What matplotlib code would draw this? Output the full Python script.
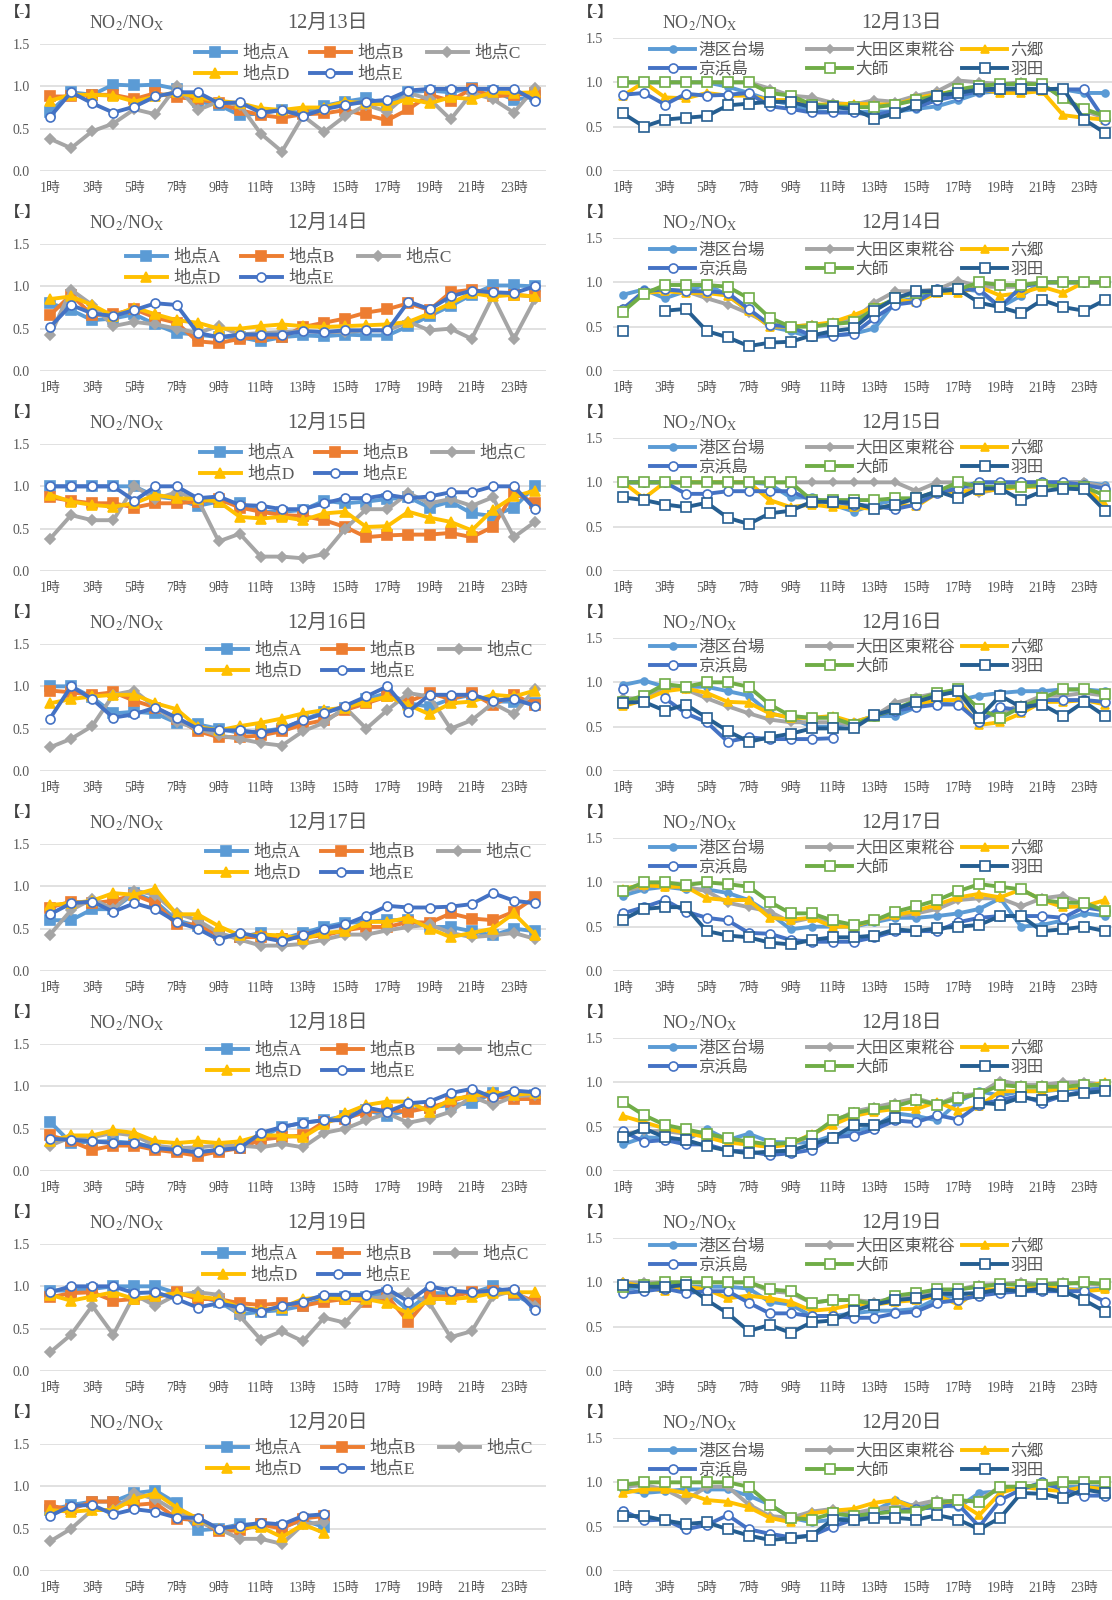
import numpy as np
import matplotlib
matplotlib.use("Agg")
import matplotlib.pyplot as plt

plt.rcParams["font.family"] = ["Liberation Serif", "Noto Sans CJK JP"]
plt.rcParams["mathtext.fontset"] = "stix"

W, H = 1112, 1600
GRAY_TXT = "#595959"

hours = [f"{h}時" for h in range(1, 25)]
dates = ["12月13日", "12月14日", "12月15日", "12月16日",
         "12月17日", "12月18日", "12月19日", "12月20日"]
pt_names = ["地点A", "地点B", "地点C", "地点D", "地点E"]
st_names = ["港区台場", "大田区東糀谷", "六郷", "京浜島", "大師", "羽田"]

# 地点A..E, one row per series, hourly 1時..24時
pt_13 = [
    [0.70, 0.93, 0.90, 1.02, 1.01, 1.02, 0.97, 0.82, 0.78, 0.66, 0.68, 0.72, 0.68, 0.77, 0.82, 0.86, 0.78, 0.93, 0.95, 0.93, 0.98, 0.95, 0.84, 0.88],
    [0.88, 0.88, 0.90, 0.90, 0.85, 0.92, 0.87, 0.85, 0.80, 0.72, 0.66, 0.63, 0.67, 0.68, 0.72, 0.66, 0.60, 0.73, 0.90, 0.83, 0.97, 0.88, 0.90, 0.92],
    [0.38, 0.27, 0.47, 0.56, 0.73, 0.67, 1.00, 0.72, 0.82, 0.78, 0.44, 0.23, 0.65, 0.46, 0.65, 0.78, 0.70, 0.92, 0.85, 0.61, 0.92, 0.85, 0.69, 0.98],
    [0.83, 0.90, 0.90, 0.89, 0.82, 0.88, 0.93, 0.87, 0.83, 0.80, 0.74, 0.72, 0.75, 0.75, 0.82, 0.80, 0.78, 0.85, 0.80, 0.87, 0.85, 0.93, 0.92, 0.93],
    [0.64, 0.93, 0.80, 0.69, 0.76, 0.88, 0.93, 0.93, 0.80, 0.81, 0.69, 0.72, 0.65, 0.73, 0.78, 0.82, 0.84, 0.95, 0.97, 0.97, 0.97, 0.97, 0.97, 0.83],
]
pt_14 = [
    [0.80, 0.72, 0.60, 0.62, 0.67, 0.55, 0.45, 0.43, 0.40, 0.40, 0.35, 0.40, 0.42, 0.41, 0.43, 0.42, 0.42, 0.53, 0.65, 0.77, 0.90, 1.01, 1.01, 1.00],
    [0.66, 0.90, 0.66, 0.67, 0.73, 0.63, 0.57, 0.35, 0.33, 0.38, 0.40, 0.40, 0.52, 0.57, 0.62, 0.69, 0.73, 0.80, 0.72, 0.93, 0.96, 0.92, 0.90, 0.88],
    [0.42, 0.96, 0.78, 0.53, 0.58, 0.55, 0.50, 0.45, 0.53, 0.43, 0.45, 0.46, 0.47, 0.46, 0.46, 0.48, 0.48, 0.58, 0.48, 0.50, 0.38, 0.88, 0.38, 0.85],
    [0.85, 0.88, 0.78, 0.65, 0.75, 0.67, 0.60, 0.57, 0.50, 0.50, 0.53, 0.55, 0.53, 0.52, 0.53, 0.54, 0.55, 0.58, 0.68, 0.80, 0.92, 0.88, 0.90, 0.88],
    [0.52, 0.78, 0.68, 0.65, 0.72, 0.80, 0.78, 0.45, 0.40, 0.43, 0.43, 0.43, 0.47, 0.46, 0.48, 0.48, 0.48, 0.82, 0.73, 0.88, 0.95, 0.93, 0.92, 1.00],
]
pt_15 = [
    [1.00, 1.00, 1.00, 1.00, 1.00, 0.88, 0.85, 0.77, 0.82, 0.80, 0.70, 0.70, 0.72, 0.83, 0.80, 0.82, 0.85, 0.87, 0.75, 0.82, 0.68, 0.65, 0.75, 1.00],
    [0.87, 0.83, 0.80, 0.80, 0.75, 0.80, 0.80, 0.82, 0.85, 0.75, 0.70, 0.66, 0.65, 0.60, 0.52, 0.40, 0.42, 0.43, 0.43, 0.45, 0.40, 0.52, 0.93, 0.80],
    [0.38, 0.66, 0.60, 0.60, 1.00, 0.85, 0.93, 0.85, 0.35, 0.44, 0.17, 0.17, 0.15, 0.20, 0.50, 0.73, 0.73, 0.92, 0.80, 0.85, 0.77, 0.87, 0.40, 0.58],
    [0.90, 0.82, 0.78, 0.76, 0.80, 0.90, 0.86, 0.85, 0.82, 0.64, 0.62, 0.64, 0.60, 0.68, 0.70, 0.52, 0.53, 0.70, 0.63, 0.58, 0.48, 0.72, 0.88, 0.95],
    [1.00, 1.00, 1.00, 1.00, 0.83, 1.00, 1.00, 0.86, 0.88, 0.78, 0.77, 0.73, 0.73, 0.80, 0.86, 0.86, 0.90, 0.86, 0.88, 0.93, 0.93, 1.00, 1.00, 0.73],
]
pt_16 = [
    [1.00, 1.00, 0.87, 0.68, 0.70, 0.68, 0.57, 0.55, 0.50, 0.45, 0.47, 0.50, 0.60, 0.70, 0.75, 0.85, 0.92, 0.80, 0.76, 0.85, 0.90, 0.82, 0.82, 0.80],
    [0.95, 0.93, 0.90, 0.93, 0.83, 0.75, 0.62, 0.47, 0.40, 0.40, 0.42, 0.47, 0.55, 0.60, 0.72, 0.80, 0.88, 0.82, 0.92, 0.85, 0.92, 0.78, 0.90, 0.78],
    [0.28, 0.38, 0.53, 0.90, 0.95, 0.75, 0.58, 0.50, 0.42, 0.38, 0.33, 0.30, 0.47, 0.57, 0.75, 0.50, 0.72, 0.92, 0.88, 0.50, 0.60, 0.80, 0.67, 0.97],
    [0.80, 0.85, 0.88, 0.90, 0.90, 0.80, 0.73, 0.52, 0.48, 0.53, 0.57, 0.62, 0.68, 0.72, 0.75, 0.82, 0.88, 0.78, 0.67, 0.80, 0.82, 0.90, 0.88, 0.95],
    [0.62, 1.00, 0.85, 0.63, 0.67, 0.75, 0.63, 0.50, 0.48, 0.48, 0.45, 0.50, 0.60, 0.68, 0.77, 0.88, 1.00, 0.70, 0.90, 0.90, 0.90, 0.83, 0.85, 0.77],
]
pt_17 = [
    [0.60, 0.60, 0.73, 0.73, 0.92, 0.82, 0.60, 0.53, 0.43, 0.40, 0.45, 0.38, 0.45, 0.52, 0.57, 0.58, 0.60, 0.60, 0.52, 0.52, 0.47, 0.42, 0.50, 0.47],
    [0.75, 0.82, 0.80, 0.83, 0.90, 0.80, 0.55, 0.55, 0.42, 0.40, 0.40, 0.38, 0.40, 0.42, 0.48, 0.52, 0.52, 0.58, 0.57, 0.68, 0.62, 0.60, 0.70, 0.87],
    [0.43, 0.72, 0.85, 0.73, 0.95, 0.90, 0.68, 0.60, 0.45, 0.37, 0.30, 0.30, 0.32, 0.37, 0.43, 0.43, 0.48, 0.52, 0.55, 0.45, 0.40, 0.42, 0.45, 0.38],
    [0.78, 0.80, 0.83, 0.92, 0.90, 0.97, 0.67, 0.67, 0.53, 0.42, 0.43, 0.42, 0.38, 0.45, 0.47, 0.58, 0.58, 0.63, 0.50, 0.40, 0.45, 0.50, 0.68, 0.43],
    [0.67, 0.80, 0.82, 0.70, 0.80, 0.73, 0.58, 0.50, 0.37, 0.45, 0.40, 0.35, 0.42, 0.50, 0.55, 0.65, 0.77, 0.75, 0.75, 0.76, 0.79, 0.92, 0.83, 0.80],
]
pt_18 = [
    [0.58, 0.33, 0.35, 0.35, 0.33, 0.28, 0.25, 0.22, 0.25, 0.27, 0.40, 0.52, 0.57, 0.60, 0.65, 0.72, 0.65, 0.72, 0.75, 0.78, 0.80, 0.92, 0.88, 0.90],
    [0.42, 0.35, 0.25, 0.30, 0.30, 0.25, 0.22, 0.18, 0.23, 0.27, 0.37, 0.40, 0.42, 0.58, 0.62, 0.70, 0.72, 0.70, 0.75, 0.82, 0.90, 0.88, 0.85, 0.85],
    [0.30, 0.40, 0.40, 0.45, 0.42, 0.30, 0.27, 0.28, 0.30, 0.30, 0.28, 0.32, 0.28, 0.45, 0.50, 0.60, 0.68, 0.57, 0.62, 0.70, 0.88, 0.78, 0.88, 0.90],
    [0.35, 0.42, 0.42, 0.48, 0.45, 0.35, 0.33, 0.35, 0.33, 0.35, 0.42, 0.42, 0.40, 0.55, 0.68, 0.78, 0.82, 0.82, 0.70, 0.85, 0.88, 0.93, 0.90, 0.92],
    [0.38, 0.37, 0.35, 0.33, 0.33, 0.27, 0.25, 0.22, 0.25, 0.27, 0.45, 0.52, 0.57, 0.60, 0.60, 0.75, 0.70, 0.80, 0.82, 0.92, 0.97, 0.87, 0.95, 0.93],
]
pt_19 = [
    [0.95, 0.95, 0.97, 1.00, 1.00, 1.00, 0.92, 0.88, 0.82, 0.67, 0.70, 0.72, 0.77, 0.85, 0.87, 0.87, 0.92, 0.72, 0.92, 0.92, 0.92, 1.00, 0.90, 0.78],
    [0.87, 0.92, 0.93, 0.83, 0.85, 0.87, 0.93, 0.85, 0.85, 0.80, 0.78, 0.80, 0.77, 0.82, 0.85, 0.82, 0.88, 0.58, 0.88, 0.88, 0.93, 0.95, 0.92, 0.82],
    [0.22, 0.43, 0.77, 0.43, 0.90, 0.77, 0.90, 0.93, 0.90, 0.65, 0.37, 0.47, 0.35, 0.63, 0.57, 0.85, 0.88, 0.92, 0.80, 0.40, 0.47, 0.88, 0.95, 0.77],
    [0.90, 0.83, 0.88, 0.93, 0.85, 0.88, 0.92, 0.88, 0.85, 0.75, 0.72, 0.75, 0.85, 0.87, 0.85, 0.85, 0.80, 0.68, 0.85, 0.85, 0.87, 0.92, 0.93, 0.93],
    [0.93, 1.00, 1.00, 1.00, 0.92, 0.93, 0.85, 0.75, 0.80, 0.75, 0.70, 0.77, 0.82, 0.90, 0.90, 0.90, 0.97, 0.82, 1.00, 0.95, 0.93, 0.95, 0.97, 0.72],
]
pt_20 = [
    [0.72, 0.78, 0.82, 0.82, 0.92, 0.95, 0.80, 0.48, 0.50, 0.55, 0.55, 0.52, 0.60, 0.52],
    [0.77, 0.73, 0.82, 0.82, 0.78, 0.80, 0.62, 0.60, 0.47, 0.48, 0.55, 0.50, 0.62, 0.65],
    [0.35, 0.50, 0.72, 0.72, 0.92, 0.85, 0.70, 0.58, 0.50, 0.38, 0.38, 0.32, 0.55, 0.58],
    [0.72, 0.70, 0.72, 0.72, 0.85, 0.92, 0.75, 0.62, 0.50, 0.52, 0.52, 0.40, 0.55, 0.45],
    [0.65, 0.77, 0.78, 0.67, 0.73, 0.70, 0.63, 0.63, 0.50, 0.53, 0.57, 0.55, 0.65, 0.67],
]

# 港区台場, 大田区東糀谷, 六郷, 京浜島, 大師, 羽田
st_13 = [
    [1.00, 1.00, 1.00, 1.00, 1.00, 0.95, 0.88, 0.80, 0.75, 0.68, 0.66, 0.66, 0.67, 0.67, 0.70, 0.73, 0.80, 0.88, 0.90, 0.92, 0.92, 0.92, 0.88, 0.88],
    [1.00, 1.00, 1.00, 1.00, 1.00, 1.00, 1.00, 0.93, 0.85, 0.83, 0.77, 0.75, 0.80, 0.78, 0.85, 0.90, 1.02, 1.00, 0.98, 1.00, 0.98, 0.82, 0.68, 0.60],
    [0.85, 1.00, 0.83, 0.82, 0.88, 0.85, 0.85, 0.80, 0.80, 0.75, 0.75, 0.76, 0.75, 0.75, 0.82, 0.87, 0.90, 0.92, 0.88, 0.88, 0.90, 0.63, 0.60, 0.58],
    [0.86, 0.88, 0.75, 0.87, 0.85, 0.86, 0.88, 0.73, 0.70, 0.66, 0.66, 0.66, 0.63, 0.68, 0.72, 0.80, 0.85, 0.90, 0.92, 0.92, 0.92, 0.92, 0.92, 0.57],
    [1.00, 1.00, 1.00, 1.00, 1.00, 1.00, 1.00, 0.88, 0.85, 0.75, 0.73, 0.72, 0.72, 0.75, 0.80, 0.85, 0.92, 0.96, 0.98, 0.98, 0.98, 0.82, 0.70, 0.62],
    [0.65, 0.50, 0.58, 0.60, 0.62, 0.74, 0.76, 0.78, 0.78, 0.72, 0.72, 0.70, 0.59, 0.65, 0.75, 0.85, 0.88, 0.92, 0.93, 0.93, 0.92, 0.93, 0.58, 0.43],
]
st_14 = [
    [0.86, 0.92, 0.82, 0.90, 0.98, 0.85, 0.68, 0.50, 0.45, 0.38, 0.40, 0.42, 0.48, 0.78, 0.82, 0.90, 0.93, 0.90, 0.72, 0.85, 1.00, 1.00, 1.00, 1.00],
    [0.70, 0.88, 0.92, 0.90, 0.82, 0.75, 0.65, 0.53, 0.50, 0.52, 0.53, 0.58, 0.77, 0.90, 0.90, 0.92, 1.02, 0.95, 0.95, 0.95, 1.00, 1.00, 1.00, 1.00],
    [0.70, 0.88, 0.90, 0.88, 0.88, 0.85, 0.68, 0.50, 0.50, 0.52, 0.55, 0.63, 0.72, 0.80, 0.78, 0.88, 0.88, 0.95, 0.85, 0.88, 0.95, 0.88, 1.00, 1.00],
    [0.70, 0.90, 0.92, 0.90, 0.90, 0.88, 0.70, 0.52, 0.50, 0.40, 0.40, 0.42, 0.60, 0.75, 0.78, 0.92, 0.92, 0.92, 0.72, 0.95, 1.00, 1.00, 1.00, 1.00],
    [0.67, 0.87, 0.97, 0.97, 0.97, 0.95, 0.82, 0.60, 0.50, 0.50, 0.53, 0.55, 0.70, 0.82, 0.88, 0.90, 0.92, 1.00, 0.97, 0.97, 1.00, 1.00, 1.00, 1.00],
    [0.45, None, 0.68, 0.70, 0.45, 0.38, 0.28, 0.32, 0.33, 0.40, 0.45, 0.48, 0.68, 0.82, 0.90, 0.90, 0.92, 0.77, 0.72, 0.65, 0.80, 0.72, 0.68, 0.80],
]
st_15 = [
    [1.00, 1.00, 1.00, 1.00, 1.00, 1.00, 1.00, 0.98, 0.83, 0.83, 0.75, 0.67, 0.75, 0.80, 0.80, 0.88, 0.95, 1.00, 1.00, 1.00, 1.00, 1.00, 1.00, 0.97],
    [1.00, 1.00, 1.00, 1.00, 1.00, 1.00, 1.00, 1.00, 1.00, 1.00, 1.00, 1.00, 1.00, 1.00, 0.90, 1.00, 1.00, 0.88, 0.93, 1.00, 1.00, 1.00, 1.00, 0.95],
    [1.00, 0.82, 1.00, 1.00, 1.00, 1.00, 1.00, 0.80, 0.72, 0.75, 0.72, 0.72, 0.70, 0.75, 0.73, 0.88, 0.90, 0.90, 0.92, 0.95, 0.95, 1.00, 0.95, 0.75],
    [1.00, 1.00, 1.00, 0.87, 0.87, 0.90, 0.90, 0.90, 0.90, 0.80, 0.78, 0.75, 0.73, 0.70, 0.75, 0.88, 0.93, 1.00, 1.00, 1.00, 1.00, 1.00, 0.97, 0.93],
    [1.00, 1.00, 1.00, 1.00, 1.00, 1.00, 1.00, 1.00, 1.00, 0.80, 0.80, 0.80, 0.80, 0.82, 0.82, 0.90, 1.00, 0.95, 0.95, 0.95, 0.97, 0.95, 0.95, 0.85],
    [0.83, 0.80, 0.75, 0.72, 0.77, 0.60, 0.53, 0.65, 0.68, 0.78, 0.78, 0.77, 0.70, 0.75, 0.82, 0.90, 0.82, 0.93, 0.93, 0.80, 0.90, 0.93, 0.92, 0.68],
]
st_16 = [
    [0.97, 1.02, 0.95, 0.95, 0.95, 0.90, 0.85, 0.65, 0.60, 0.50, 0.50, 0.55, 0.62, 0.62, 0.72, 0.78, 0.80, 0.85, 0.88, 0.90, 0.90, 0.92, 0.92, 0.90],
    [0.82, 0.82, 0.95, 0.92, 0.82, 0.73, 0.65, 0.58, 0.55, 0.55, 0.55, 0.52, 0.62, 0.77, 0.83, 0.88, 0.88, 0.60, 0.65, 0.75, 0.85, 0.85, 0.88, 0.85],
    [0.73, 0.80, 0.90, 0.93, 0.88, 0.78, 0.77, 0.65, 0.60, 0.60, 0.62, 0.55, 0.62, 0.70, 0.75, 0.80, 0.80, 0.52, 0.55, 0.65, 0.78, 0.78, 0.80, 0.75],
    [0.92, None, 0.82, 0.65, 0.55, 0.33, 0.38, 0.36, 0.36, 0.36, 0.37, None, 0.62, 0.68, 0.72, 0.75, 0.75, 0.55, 0.72, 0.68, 0.80, 0.80, 0.80, 0.78],
    [0.78, 0.85, 0.98, 0.95, 1.00, 1.00, 0.95, 0.75, 0.62, 0.60, 0.60, 0.52, 0.62, 0.70, 0.80, 0.88, 0.92, 0.70, 0.60, 0.72, 0.82, 0.92, 0.92, 0.87],
    [0.77, 0.78, 0.68, 0.75, 0.60, 0.45, 0.33, 0.38, 0.42, 0.48, 0.48, 0.48, 0.63, 0.70, 0.78, 0.85, 0.90, 0.60, 0.85, 0.72, 0.75, 0.62, 0.78, 0.62],
]
st_17 = [
    [0.85, 0.92, 0.95, 0.92, 0.92, 0.88, 0.80, 0.65, 0.47, 0.50, 0.50, 0.50, 0.55, 0.60, 0.60, 0.62, 0.65, 0.70, 0.82, 0.50, 0.52, 0.57, 0.65, 0.62],
    [0.90, 0.95, 0.97, 0.95, 0.90, 0.77, 0.72, 0.67, 0.55, 0.60, 0.55, 0.52, 0.57, 0.62, 0.65, 0.70, 0.80, 0.82, 0.82, 0.73, 0.82, 0.85, 0.75, 0.68],
    [0.93, 0.97, 0.95, 0.95, 0.82, 0.80, 0.80, 0.60, 0.58, 0.60, 0.50, 0.50, 0.58, 0.63, 0.68, 0.75, 0.83, 0.87, 0.83, 0.92, 0.80, 0.72, 0.73, 0.80],
    [0.65, 0.72, 0.80, 0.67, 0.60, 0.57, 0.43, 0.42, 0.35, 0.33, 0.33, 0.33, 0.38, 0.45, 0.45, 0.45, 0.55, 0.60, 0.62, 0.62, 0.62, 0.60, 0.72, 0.68],
    [0.90, 1.00, 1.00, 0.97, 1.00, 0.98, 0.95, 0.78, 0.65, 0.65, 0.57, 0.52, 0.57, 0.67, 0.73, 0.80, 0.90, 0.98, 0.95, 0.92, 0.80, 0.77, 0.77, 0.68],
    [0.58, 0.70, 0.72, 0.72, 0.45, 0.40, 0.38, 0.32, 0.30, 0.35, 0.38, 0.38, 0.40, 0.47, 0.45, 0.48, 0.50, 0.52, 0.62, 0.62, 0.45, 0.47, 0.50, 0.45],
]
st_18 = [
    [0.30, 0.38, 0.37, 0.35, 0.47, 0.35, 0.42, 0.33, 0.32, 0.32, 0.40, 0.45, 0.50, 0.65, 0.62, 0.57, 0.78, 0.90, 0.85, 0.90, 0.90, 0.92, 0.93, 0.95],
    [0.42, 0.45, 0.45, 0.42, 0.40, 0.33, 0.30, 0.28, 0.30, 0.40, 0.55, 0.67, 0.72, 0.77, 0.82, 0.75, 0.85, 0.87, 1.02, 0.97, 0.97, 1.00, 1.00, 0.97],
    [0.62, 0.55, 0.48, 0.43, 0.38, 0.32, 0.30, 0.27, 0.30, 0.42, 0.52, 0.62, 0.67, 0.70, 0.70, 0.78, 0.68, 0.73, 0.90, 0.90, 0.90, 0.93, 0.95, 1.00],
    [0.45, 0.33, 0.35, 0.30, 0.30, 0.23, 0.22, 0.18, 0.20, 0.24, 0.38, 0.40, 0.47, 0.57, 0.55, 0.63, 0.58, 0.75, 0.80, 0.85, 0.77, 0.85, 0.90, 0.93],
    [0.78, 0.63, 0.52, 0.47, 0.42, 0.37, 0.33, 0.30, 0.32, 0.40, 0.57, 0.65, 0.70, 0.73, 0.80, 0.75, 0.82, 0.87, 0.97, 0.95, 0.95, 0.95, 0.97, 0.97],
    [0.38, 0.48, 0.38, 0.35, 0.28, 0.23, 0.20, 0.22, 0.23, 0.30, 0.37, 0.52, 0.52, 0.60, None, None, None, 0.77, 0.75, 0.83, 0.80, 0.85, 0.88, 0.90],
]
st_19 = [
    [0.92, 0.95, 0.95, 0.95, 0.95, 0.95, 0.93, 0.78, 0.75, 0.62, 0.62, 0.65, 0.68, 0.68, 0.70, 0.82, 0.85, 0.88, 0.92, 0.92, 0.93, 0.92, 0.92, 0.93],
    [1.00, 1.00, 1.00, 1.00, 1.00, 1.00, 1.00, 0.90, 0.88, 0.77, 0.80, 0.80, 0.78, 0.82, 0.85, 0.90, 0.92, 0.97, 0.98, 1.00, 0.98, 1.00, 0.98, 0.97],
    [1.00, 0.95, 0.90, 0.95, 0.92, 0.82, 0.85, 0.82, 0.78, 0.68, 0.70, 0.75, 0.75, 0.78, 0.80, 0.85, 0.75, 0.92, 0.92, 0.93, 0.95, 0.93, 0.90, 0.92],
    [0.88, 0.90, 0.93, 0.88, 0.90, 0.90, 0.77, 0.65, 0.65, 0.62, 0.62, 0.60, 0.60, 0.65, 0.67, 0.77, 0.80, 0.85, 0.88, 0.90, 0.90, 0.90, 0.90, 0.78],
    [0.95, 0.97, 1.00, 1.00, 1.00, 1.00, 1.00, 0.92, 0.90, 0.77, 0.80, 0.80, 0.75, 0.85, 0.88, 0.92, 0.92, 0.95, 0.98, 0.97, 0.98, 0.98, 1.00, 0.98],
    [0.97, 0.95, 0.95, 0.97, 0.80, 0.65, 0.45, 0.52, 0.43, 0.55, 0.57, 0.68, 0.75, 0.80, 0.82, 0.87, 0.87, 0.88, 0.92, 0.90, 0.93, 0.90, 0.80, 0.67],
]
st_20 = [
    [0.92, 0.88, 0.90, 0.92, 0.92, 0.92, 0.85, 0.75, 0.60, 0.55, 0.58, 0.60, 0.68, 0.80, 0.72, 0.75, 0.72, 0.88, 0.90, 0.95, 0.97, 0.95, 0.95, 0.95],
    [0.95, 0.97, 0.92, 0.80, 0.95, 0.95, 0.75, 0.62, 0.60, 0.67, 0.70, 0.65, 0.70, 0.72, 0.75, 0.80, 0.78, 0.80, 0.95, 0.95, 0.97, 1.00, 1.00, 1.00],
    [0.88, 0.92, 0.92, 0.88, 0.80, 0.78, 0.72, 0.60, 0.55, 0.65, 0.68, 0.70, 0.77, 0.80, 0.70, 0.73, 0.78, 0.63, 0.88, 0.95, 0.92, 0.90, 0.95, 0.92],
    [0.68, 0.57, 0.58, 0.47, 0.52, 0.63, 0.47, 0.42, 0.38, 0.40, 0.50, 0.58, 0.65, 0.68, 0.70, 0.72, 0.75, 0.50, 0.80, 0.92, 1.00, 0.92, 0.85, 0.85],
    [0.97, 1.00, 1.00, 1.00, 1.00, 1.00, 0.95, 0.75, 0.60, 0.58, 0.65, 0.62, 0.65, 0.67, 0.67, 0.77, 0.80, 0.78, 0.95, 0.95, 0.97, 1.00, 1.00, 1.00],
    [0.62, 0.62, 0.57, 0.53, 0.55, 0.47, 0.40, 0.35, 0.37, 0.40, 0.58, 0.57, 0.60, 0.60, 0.58, 0.63, 0.58, 0.47, 0.60, 0.88, 0.87, 0.82, 0.92, 0.88],
]

left_days = [pt_13, pt_14, pt_15, pt_16, pt_17, pt_18, pt_19, pt_20]
right_days = [st_13, st_14, st_15, st_16, st_17, st_18, st_19, st_20]

# styles: color, marker, size, face
pt_style = [
    ("#5B9BD5", "s", 7, None),
    ("#ED7D31", "s", 7, None),
    ("#A5A5A5", "D", 5.5, None),
    ("#FFC000", "^", 7.5, None),
    ("#4472C4", "o", 6.5, "white"),
]
st_style = [
    ("#5B9BD5", "o", 5, None),
    ("#A5A5A5", "D", 4, None),
    ("#FFC000", "^", 5.5, None),
    ("#4472C4", "o", 6.5, "white"),
    ("#70AD47", "s", 6.5, "white"),
    ("#255E91", "s", 6.5, "white"),
]

# legend layout (px): entry grid = (row, column) for each series
pt_grid = [(0, 0), (0, 1), (0, 2), (1, 0), (1, 1)]
st_grid = [(0, 0), (0, 1), (0, 2), (1, 0), (1, 1), (1, 2)]
pt_leg_x = [195, 126, 200, 207, 206, 207, 203, 207]
pt_leg_y = [54, 58, 54, 51, 53, 51, 55, 49]
st_leg_y = [51, 51, 49, 48, 49, 49, 47, 52]


def px_axes(fig, x0, x1, ytop, ybot):
    return fig.add_axes([x0 / W, 1 - ybot / H, (x1 - x0) / W, (ybot - ytop) / H])


def style_axes(ax):
    ax.set_ylim(0, 1.5)
    ax.set_xlim(-0.5, 23.5)
    ax.set_yticks([0, 0.5, 1.0, 1.5])
    ax.set_yticklabels(["0.0", "0.5", "1.0", "1.5"])
    ax.set_xticks(range(0, 24, 2))
    ax.set_xticklabels(hours[::2])
    ax.tick_params(length=0, labelsize=10, colors=GRAY_TXT)
    ax.tick_params(axis="x", pad=8)
    ax.tick_params(axis="y", pad=7)
    for s in ax.spines.values():
        s.set_visible(False)
    ax.grid(axis="y", color="#D9D9D9", lw=1.1)
    ax.set_axisbelow(True)


def draw_series(ax, rows, styles):
    lines = []
    for vals, (c, m, ms, face) in zip(rows, styles):
        y = np.array(vals, dtype=float)
        ln, = ax.plot(range(len(y)), y, color=c, lw=2.8, marker=m, ms=ms,
                      mfc=face if face else c, mec=c, mew=1.2)
        lines.append(ln)
    return lines


def place_legend(fig, lines, names, grid, x0, col_dx, y0, row_dy, fs, hl, pad):
    # one small legend per entry so the columns sit where Excel put them
    for ln, name, (r, c) in zip(lines, names, grid):
        x = x0 + col_dx[c]
        y = y0 + r * row_dy
        fig.legend([ln], [name], loc="center left",
                   bbox_to_anchor=(x / W, 1 - y / H),
                   frameon=False, fontsize=fs, handlelength=hl, handletextpad=pad,
                   borderpad=0, borderaxespad=0, labelcolor=GRAY_TXT)


fig = plt.figure(figsize=(W / 100, H / 100), dpi=100)
title_txt = r"NO$_2$/NO$_\mathrm{X}$"

for k in range(8):
    top = 200 * k

    # left column: 地点A-E
    ax = px_axes(fig, 39.5, 545.5, top + 44, top + 171)
    style_axes(ax)
    ln = draw_series(ax, left_days[k], pt_style)
    place_legend(fig, ln, pt_names, pt_grid, pt_leg_x[k], [0, 115, 232],
                 top + pt_leg_y[k], 21, 12.5, 2.35, 0.4)
    fig.text(23 / W, 1 - (top + 13) / H, "【-】", ha="center", va="center",
             fontsize=11, color="#404040", fontweight="bold")
    fig.text(127 / W, 1 - (top + 23) / H, title_txt, ha="center", va="center",
             fontsize=13, color=GRAY_TXT)
    fig.text(328 / W, 1 - (top + 23) / H, dates[k], ha="center", va="center",
             fontsize=14.5, color=GRAY_TXT)

    # right column: monitoring stations
    ax = px_axes(fig, 612.5, 1115.5, top + 38, top + 171)
    style_axes(ax)
    ln = draw_series(ax, right_days[k], st_style)
    place_legend(fig, ln, st_names, st_grid, 650, [0, 157, 312],
                 top + st_leg_y[k], 19, 12, 2.7, 0.2)
    fig.text(596 / W, 1 - (top + 13) / H, "【-】", ha="center", va="center",
             fontsize=11, color="#404040", fontweight="bold")
    fig.text(700 / W, 1 - (top + 23) / H, title_txt, ha="center", va="center",
             fontsize=13, color=GRAY_TXT)
    fig.text(902 / W, 1 - (top + 23) / H, dates[k], ha="center", va="center",
             fontsize=14.5, color=GRAY_TXT)

fig.savefig("out.png", dpi=100)
